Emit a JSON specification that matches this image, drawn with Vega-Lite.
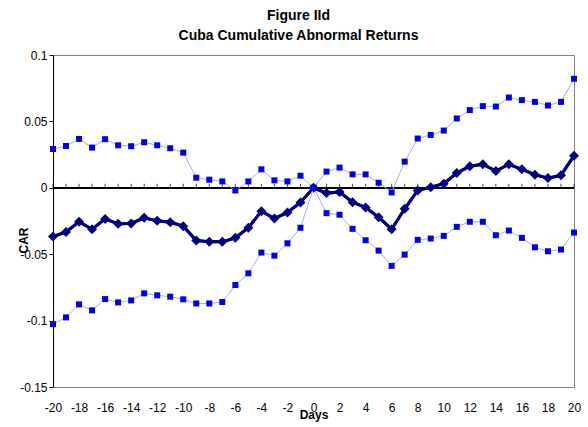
{
  "$schema": "https://vega.github.io/schema/vega-lite/v6.json",
  "autosize": {"type": "none"},
  "padding": {"left": 53, "top": 55, "right": 14, "bottom": 40},
  "width": 521,
  "height": 332,
  "background": "white",
  "title": {
    "text": ["Figure IId", "Cuba Cumulative Abnormal Returns"],
    "font": "Liberation Sans",
    "fontSize": 14,
    "fontWeight": "bold",
    "color": "black",
    "anchor": "middle",
    "frame": "group",
    "dx": -15,
    "lineHeight": 20,
    "offset": 6
  },
  "config": {
    "view": {"stroke": "#808080", "strokeWidth": 1},
    "axis": {
      "labelFont": "Liberation Sans",
      "labelFontSize": 12,
      "labelColor": "black",
      "titleFont": "Liberation Sans",
      "titleFontSize": 12,
      "titleFontWeight": "bold",
      "titleColor": "black",
      "grid": false,
      "labelOverlap": false,
      "labelFlush": false,
      "labelSeparation": 0
    },
    "axisX": {"labelOverlap": false, "labelBound": false}
  },
  "data": {
    "values": [
      {"day": -20, "car": -0.0367, "upper": 0.0292, "lower": -0.1027},
      {"day": -19, "car": -0.0332, "upper": 0.0315, "lower": -0.0976},
      {"day": -18, "car": -0.0256, "upper": 0.0368, "lower": -0.0878},
      {"day": -17, "car": -0.0312, "upper": 0.0303, "lower": -0.0923},
      {"day": -16, "car": -0.0234, "upper": 0.0366, "lower": -0.0838},
      {"day": -15, "car": -0.0271, "upper": 0.0320, "lower": -0.0863},
      {"day": -14, "car": -0.0268, "upper": 0.0313, "lower": -0.0848},
      {"day": -13, "car": -0.0226, "upper": 0.0343, "lower": -0.0795},
      {"day": -12, "car": -0.0249, "upper": 0.0320, "lower": -0.0810},
      {"day": -11, "car": -0.0259, "upper": 0.0298, "lower": -0.0820},
      {"day": -10, "car": -0.0289, "upper": 0.0265, "lower": -0.0840},
      {"day": -9, "car": -0.0397, "upper": 0.0076, "lower": -0.0871},
      {"day": -8, "car": -0.0407, "upper": 0.0061, "lower": -0.0871},
      {"day": -7, "car": -0.0407, "upper": 0.0048, "lower": -0.0860},
      {"day": -6, "car": -0.0377, "upper": -0.0020, "lower": -0.0732},
      {"day": -5, "car": -0.0301, "upper": 0.0048, "lower": -0.0644},
      {"day": -4, "car": -0.0176, "upper": 0.0139, "lower": -0.0488},
      {"day": -3, "car": -0.0231, "upper": 0.0056, "lower": -0.0511},
      {"day": -2, "car": -0.0186, "upper": 0.0048, "lower": -0.0418},
      {"day": -1, "car": -0.0110, "upper": 0.0091, "lower": -0.0301},
      {"day": 0, "car": 0, "upper": 0, "lower": 0},
      {"day": 1, "car": -0.0040, "upper": 0.0122, "lower": -0.0191},
      {"day": 2, "car": -0.0032, "upper": 0.0152, "lower": -0.0203},
      {"day": 3, "car": -0.0108, "upper": 0.0101, "lower": -0.0309},
      {"day": 4, "car": -0.0148, "upper": 0.0101, "lower": -0.0395},
      {"day": 5, "car": -0.0221, "upper": 0.0038, "lower": -0.0473},
      {"day": 6, "car": -0.0312, "upper": -0.0035, "lower": -0.0588},
      {"day": 7, "car": -0.0158, "upper": 0.0197, "lower": -0.0503},
      {"day": 8, "car": -0.0020, "upper": 0.0371, "lower": -0.0392},
      {"day": 9, "car": 0.0005, "upper": 0.0398, "lower": -0.0382},
      {"day": 10, "car": 0.0031, "upper": 0.0431, "lower": -0.0362},
      {"day": 11, "car": 0.0111, "upper": 0.0522, "lower": -0.0294},
      {"day": 12, "car": 0.0162, "upper": 0.0585, "lower": -0.0256},
      {"day": 13, "car": 0.0177, "upper": 0.0615, "lower": -0.0256},
      {"day": 14, "car": 0.0126, "upper": 0.0612, "lower": -0.0357},
      {"day": 15, "car": 0.0177, "upper": 0.0680, "lower": -0.0322},
      {"day": 16, "car": 0.0139, "upper": 0.0660, "lower": -0.0377},
      {"day": 17, "car": 0.0099, "upper": 0.0647, "lower": -0.0448},
      {"day": 18, "car": 0.0073, "upper": 0.0620, "lower": -0.0478},
      {"day": 19, "car": 0.0094, "upper": 0.0647, "lower": -0.0465},
      {"day": 20, "car": 0.0242, "upper": 0.0821, "lower": -0.0337}
    ]
  },
  "encoding": {
    "x": {
      "field": "day", "type": "quantitative", "title": "Days",
      "scale": {"domain": [-20, 20], "nice": false},
      "axis": {
        "values": [-20, -18, -16, -14, -12, -10, -8, -6, -4, -2, 0, 2, 4, 6, 8, 10, 12, 14, 16, 18, 20],
        "labelExpr": "'' + datum.value",
        "domain": false, "ticks": false, "labelPadding": 15, "titlePadding": -4,
        "labelFlush": false, "labelOverlap": false, "labelBound": false
      }
    }
  },
  "layer": [
    {
      "mark": {"type": "line", "color": "#000080", "strokeWidth": 3},
      "encoding": {
        "y": {
          "field": "car", "type": "quantitative", "title": "CAR",
          "scale": {"domain": [-0.15, 0.1], "nice": false},
          "axis": {
            "values": [-0.15, -0.1, -0.05, 0, 0.05, 0.1],
            "labelExpr": "'' + datum.value",
            "domainColor": "black", "tickColor": "black", "tickSize": 4, "labelPadding": 2,
            "labelFlush": false, "labelOverlap": false,
            "titleX": -30, "titleY": 185, "titleAngle": -90, "titleAlign": "center", "titleBaseline": "middle"
          }
        }
      }
    },
    {
      "mark": {"type": "rule", "color": "black", "strokeWidth": 1},
      "encoding": {
        "x": {"datum": -20, "type": "quantitative"},
        "x2": {"datum": 20},
        "y": {"datum": 0, "type": "quantitative", "title": "CAR"}
      }
    },
    {
      "mark": {"type": "tick", "orient": "vertical", "color": "black", "size": 4, "thickness": 1, "yOffset": -2},
      "encoding": {
        "y": {"datum": 0, "type": "quantitative", "title": "CAR"}
      }
    },
    {
      "mark": {"type": "line", "color": "#000080", "strokeWidth": 3},
      "encoding": {
        "y": {"field": "car", "type": "quantitative", "title": "CAR"}
      }
    },
    {
      "mark": {"type": "point", "shape": "diamond", "filled": true, "color": "#000080", "size": 100, "opacity": 1},
      "encoding": {
        "y": {"field": "car", "type": "quantitative", "title": "CAR"}
      }
    },
    {
      "mark": {"type": "line", "color": "#a8a8ff", "strokeWidth": 1},
      "encoding": {
        "y": {"field": "upper", "type": "quantitative", "title": "CAR"}
      }
    },
    {
      "mark": {"type": "line", "color": "#a8a8ff", "strokeWidth": 1},
      "encoding": {
        "y": {"field": "lower", "type": "quantitative", "title": "CAR"}
      }
    },
    {
      "mark": {"type": "point", "shape": "square", "filled": true, "color": "#0000e0", "size": 36, "opacity": 1},
      "encoding": {
        "y": {"field": "upper", "type": "quantitative", "title": "CAR"}
      }
    },
    {
      "mark": {"type": "point", "shape": "square", "filled": true, "color": "#0000e0", "size": 36, "opacity": 1},
      "encoding": {
        "y": {"field": "lower", "type": "quantitative", "title": "CAR"}
      }
    }
  ]
}
